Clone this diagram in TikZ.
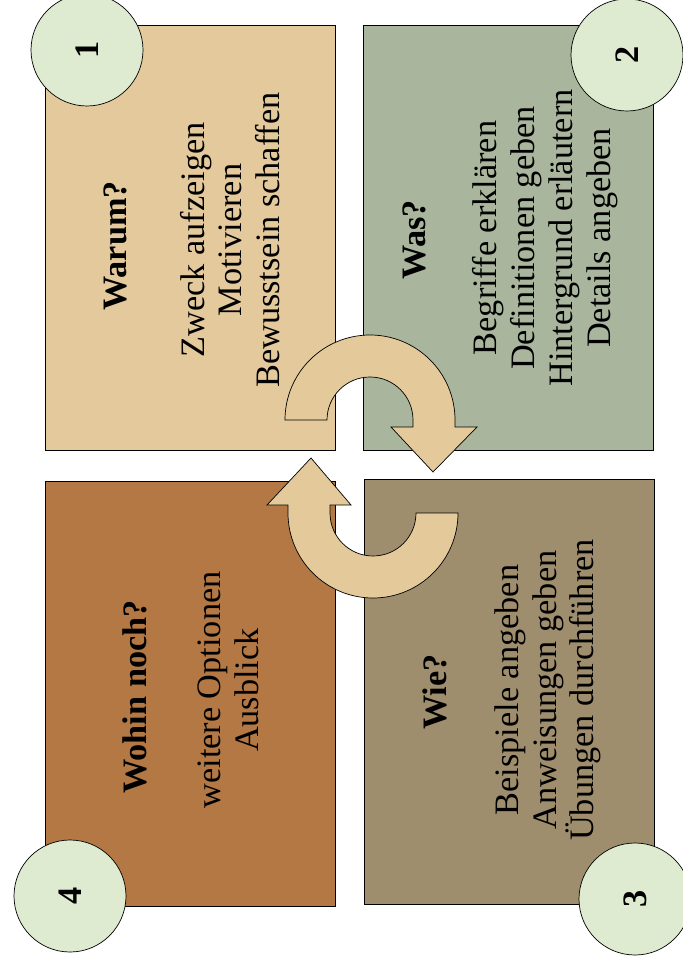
\documentclass[tikz,border=0pt]{standalone}
\usepackage{fontspec}
\setmainfont{Liberation Serif}
\definecolor{warumfill}{HTML}{E3C99B}
\definecolor{wasfill}{HTML}{A9B59C}
\definecolor{wiefill}{HTML}{9F8E6E}
\definecolor{wohinfill}{HTML}{B37843}
\definecolor{numfill}{HTML}{DFEBD0}
\definecolor{arrowfill}{HTML}{E4CA9B}

\begin{document}
\begin{tikzpicture}[x=0.2mm, y=0.2mm,
    box/.style={draw=black, line width=0.5pt, minimum width=58mm, minimum height=85mm, inner sep=0pt},
    numcircle/.style={draw=black, line width=0.4pt, fill=numfill, circle, minimum size=22.4mm, inner sep=0pt, rotate=90, font=\fontsize{19.5}{21.5}\selectfont\bfseries},
    titletext/.style={rotate=90, inner sep=0pt, font=\fontsize{19.5}{21.5}\selectfont\bfseries},
    bodytext/.style={rotate=90, inner sep=0pt, align=center, font=\fontsize{19.5}{21.5}\selectfont},
    cyclearrow/.style={draw=black, line width=0.4pt, fill=arrowfill, line join=miter}]
            \useasboundingbox (0,0) rectangle (682,-963);

            % Boxes
            \node[box, fill=warumfill] (b1) at (190,-237.5) {};
            \node[box, fill=wasfill] (b2) at (508,-237.5) {};
            \node[box, fill=wiefill] (b3) at (509,-692) {};
            \node[box, fill=wohinfill] (b4) at (190,-693.5) {};

            % Titles
            \node[titletext] (t1) at (115,-246) {Warum?};
            \node[titletext] (t2) at (414,-240) {Was?};
            \node[titletext] (t3) at (435,-692) {Wie?};
            \node[titletext] (t4) at (135,-697) {Wohin noch?};

            % Lists
            \node[bodytext] (l1) at (230,-240) {Zweck aufzeigen\\Motivieren\\Bewusstsein schaffen};
            \node[bodytext] (l2) at (545,-238) {Begriffe erklären\\Definitionen geben\\Hintergrund erläutern\\Details angeben};
            \node[bodytext] (l3) at (548,-690) {Beispiele angeben\\Anweisungen geben\\Übungen durchführen};
            \node[bodytext] (l4) at (228,-690) {weitere Optionen\\Ausblick};

            % Circular arrows
            \draw[cyclearrow] (285,-420) arc[start angle=180, end angle=0, radius=85]
                -- (455,-427) -- (477,-427) -- (433,-472) -- (391,-427) -- (413,-427)
                -- (413,-420) arc[start angle=0, end angle=180, radius=43] -- cycle;
            \draw[cyclearrow] (458,-513) arc[start angle=0, end angle=-180, radius=85]
                -- (288,-505) -- (267,-505) -- (311,-458) -- (351,-505) -- (330,-505)
                -- (330,-513) arc[start angle=180, end angle=360, radius=43] -- cycle;

            % Numbers
            \foreach \n/\x/\y in {1/87/-50, 2/627/-55, 3/635/-899, 4/70/-896} {
                \node[numcircle] (c\n) at (\x,\y) {\n};
            }
        \end{tikzpicture}
\end{document}
